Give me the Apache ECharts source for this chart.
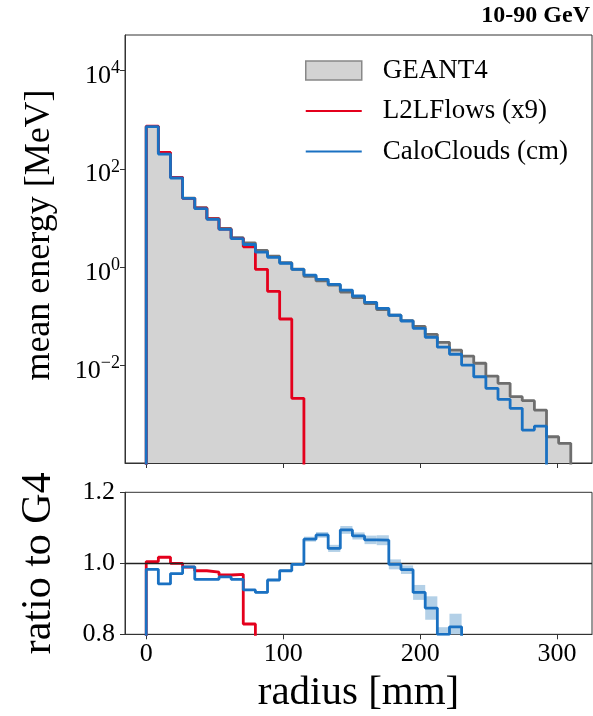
<!DOCTYPE html>
<html>
<head>
<meta charset="utf-8">
<script src="https://cdn.jsdelivr.net/npm/echarts@6/dist/echarts.min.js"></script>
<style>html,body{margin:0;padding:0;background:#fff}#c{width:593px;height:716px}</style>
</head>
<body>
<div id="c"></div>
<script>
// ---- data ----
const binEdges = [0, 8.857, 17.714, 26.571, 35.429, 44.286, 53.143, 62, 70.857, 79.714, 88.571,
  97.429, 106.286, 115.143, 124, 132.857, 141.714, 150.571, 159.429, 168.286, 177.143, 186,
  194.857, 203.714, 212.571, 221.429, 230.286, 239.143, 248, 256.857, 265.714, 274.571,
  283.429, 292.286, 301.143, 310];

const geant4 = [736, 213, 67.5, 25.6, 16.3, 9.92, 6.16, 4.0, 3.15, 2.21, 1.68, 1.24, 0.913,
  0.653, 0.528, 0.433, 0.315, 0.242, 0.182, 0.138, 0.106, 0.0825, 0.0626, 0.0434, 0.0298,
  0.0208, 0.0157, 0.0112, 0.00615, 0.00438, 0.00234, 0.00194, 0.00125, 0.000359, 0.000264];

const l2lflows = [740, 217, 67.5, 25.3, 16.0, 9.67, 5.96, 3.88, 2.61, 0.91, 0.325, 0.089, 0.00217];

const caloclouds = [724, 201, 65.5, 25.3, 15.6, 9.47, 5.93, 3.82, 2.91, 2.03, 1.60, 1.21, 0.91,
  0.697, 0.570, 0.451, 0.345, 0.261, 0.194, 0.147, 0.106, 0.081, 0.0575, 0.0379, 0.0238,
  0.0171, 0.0103, 0.00596, 0.00346, 0.00207, 0.00136, 0.00049, 0.00059];

const ratioL2L = [1.005, 1.017, 1.0, 0.989, 0.979, 0.975, 0.967, 0.969, 0.829, 0.41, 0.19, 0.072, 0.0024];

const ratioCalo = [0.983, 0.942, 0.971, 0.990, 0.955, 0.955, 0.962, 0.955, 0.925, 0.918, 0.953,
  0.979, 0.997, 1.068, 1.080, 1.042, 1.094, 1.077, 1.066, 1.065, 0.997, 0.982, 0.918, 0.874,
  0.800, 0.821, 0.66, 0.53, 0.56, 0.47, 0.58, 0.25, 0.47];

const ratioCaloErr = [0.002, 0.002, 0.002, 0.002, 0.002, 0.002, 0.002, 0.002, 0.002, 0.003, 0.003,
  0.003, 0.004, 0.007, 0.008, 0.010, 0.011, 0.010, 0.012, 0.014, 0.014, 0.012, 0.021, 0.033,
  0.020, 0.037, 0.05, 0.06, 0.07, 0.08, 0.09, 0.1, 0.1];

const xTicks = [0, 100, 200, 300];
const yTopTicks = [0.01, 1, 100, 10000];
const yRatioTicks = [0.8, 1.0, 1.2];

// ---- styling ----
const FONT = 'Liberation Serif';
const RED = '#e4001c';
const BLUE = '#1a71c2';
const GREY_LINE = '#6e6e6e';
const GREY_FILL = '#d3d3d3';
const BAND = '#b3d0e7';
const AX = '#333';
const LW = 2.8;

function steps(vals, floor) {
  const pts = [[binEdges[0], floor]];
  vals.forEach((v, i) => pts.push([binEdges[i], v]));
  pts.push([binEdges[vals.length], vals[vals.length - 1]]);
  pts.push([binEdges[vals.length], floor]);
  return pts;
}
function supNum(e) { return e < 0 ? '\u2212' + (-e) : String(e); }

const chart = echarts.init(document.getElementById('c'), null, {renderer: 'canvas'});
const axisLineStyle = {color: AX, width: 1};

chart.setOption({
  animation: false,
  textStyle: {fontFamily: FONT},
  title: {
    text: '10-90 GeV', right: 3, top: 4, padding: 0,
    textStyle: {fontFamily: FONT, fontWeight: 'bold', fontSize: 24, color: '#000'}
  },
  legend: {
    orient: 'vertical', left: 305, top: 57, padding: 0, itemGap: 13.5,
    itemWidth: 56, itemHeight: 19, selectedMode: false, symbolKeepAspect: true,
    textStyle: {fontFamily: FONT, fontSize: 27, color: '#000', lineHeight: 27, padding: [0, 0, 0, 16]},
    data: [
      {name: 'GEANT4', icon: 'rect', itemStyle: {color: GREY_FILL, borderColor: '#888', borderWidth: 1.5}},
      {name: 'L2LFlows (x9)', icon: 'path://M0,0H28V1H0Z', itemStyle: {color: RED, borderWidth: 0}},
      {name: 'CaloClouds (cm)', icon: 'path://M0,0H28V1H0Z', itemStyle: {color: BLUE, borderWidth: 0}}
    ]
  },
  grid: [
    {left: 125, right: 1, top: 35, bottom: 253, show: true, borderColor: AX, borderWidth: 1, backgroundColor: 'transparent'},
    {left: 125, right: 1, top: 492.3, bottom: 81.7, show: true, borderColor: AX, borderWidth: 1, backgroundColor: 'transparent'}
  ],
  xAxis: [
    {
      type: 'value', gridIndex: 0, min: -15.5, max: 325.5,
      axisLine: {show: true, onZero: false, lineStyle: axisLineStyle},
      axisTick: {show: true, length: 5, customValues: xTicks, lineStyle: axisLineStyle},
      axisLabel: {show: false},
      splitLine: {show: false}
    },
    {
      type: 'value', gridIndex: 1, min: -15.5, max: 325.5,
      name: 'radius [mm]', nameLocation: 'middle', nameGap: 38,
      nameTextStyle: {fontFamily: FONT, fontSize: 41, color: '#000'},
      axisLine: {show: true, onZero: false, lineStyle: axisLineStyle},
      axisTick: {show: true, length: 5, customValues: xTicks, lineStyle: axisLineStyle},
      axisLabel: {show: true, customValues: xTicks, margin: 7, fontFamily: FONT, fontSize: 26, color: '#000'},
      splitLine: {show: false}
    }
  ],
  yAxis: [
    {
      type: 'log', logBase: 10, gridIndex: 0, min: 1.05e-4, max: 5.3e4,
      name: 'mean energy [MeV]', nameLocation: 'middle', nameGap: 67,
      nameTextStyle: {fontFamily: FONT, fontSize: 36, color: '#000', padding: [0, 0, 0, 28]},
      axisLine: {show: true, onZero: false, lineStyle: axisLineStyle},
      axisTick: {show: true, length: 5, customValues: yTopTicks, lineStyle: axisLineStyle},
      axisLabel: {
        show: true, customValues: yTopTicks, margin: 5, color: '#000',
        formatter: v => '{b|10}{s|' + supNum(Math.round(Math.log10(v))) + '}',
        rich: {
          b: {fontFamily: FONT, fontSize: 26, color: '#000', padding: [11, 0, 0, 0]},
          s: {fontFamily: FONT, fontSize: 18, color: '#000', padding: [0, 0, 4, 0]}
        }
      },
      splitLine: {show: false}, minorTick: {show: false}
    },
    {
      type: 'value', gridIndex: 1, min: 0.8, max: 1.2, interval: 0.2,
      name: 'ratio to G4', nameLocation: 'middle', nameGap: 65,
      nameTextStyle: {fontFamily: FONT, fontSize: 42, color: '#000'},
      axisLine: {show: true, onZero: false, lineStyle: axisLineStyle},
      axisTick: {show: true, length: 5, customValues: yRatioTicks, lineStyle: axisLineStyle},
      axisLabel: {show: true, customValues: yRatioTicks, margin: 10, fontFamily: FONT, fontSize: 26, color: '#000',
        formatter: v => v.toFixed(1)},
      splitLine: {show: false}
    }
  ],
  series: [
    {
      name: 'GEANT4', type: 'line', xAxisIndex: 0, yAxisIndex: 0, step: 'end', symbol: 'none',
      data: steps(geant4, 1e-8), z: 2,
      lineStyle: {color: GREY_LINE, width: LW}, itemStyle: {color: GREY_FILL},
      areaStyle: {color: GREY_FILL, opacity: 1}
    },
    {
      name: 'L2LFlows (x9)', type: 'line', xAxisIndex: 0, yAxisIndex: 0, step: 'end', symbol: 'none',
      data: steps(l2lflows, 1e-8), z: 3,
      lineStyle: {color: RED, width: LW}, itemStyle: {color: RED}
    },
    {
      name: 'CaloClouds (cm)', type: 'line', xAxisIndex: 0, yAxisIndex: 0, step: 'end', symbol: 'none',
      data: steps(caloclouds, 1e-8), z: 4,
      lineStyle: {color: BLUE, width: LW}, itemStyle: {color: BLUE}
    },
    {
      name: 'CaloClouds (cm)', type: 'custom', xAxisIndex: 1, yAxisIndex: 1, z: 2,
      data: ratioCalo.map((r, i) => [binEdges[i], binEdges[i + 1], r - ratioCaloErr[i], r + ratioCaloErr[i]]),
      encode: {x: [0, 1], y: [2, 3]},
      renderItem: function (params, api) {
        const p0 = api.coord([api.value(0), api.value(3)]);
        const p1 = api.coord([api.value(1), api.value(2)]);
        const shape = echarts.graphic.clipRectByRect(
          {x: p0[0], y: p0[1], width: p1[0] - p0[0], height: p1[1] - p0[1]},
          {x: params.coordSys.x, y: params.coordSys.y, width: params.coordSys.width, height: params.coordSys.height});
        return shape && {type: 'rect', shape: shape, style: {fill: BAND}};
      }
    },
    {
      type: 'line', xAxisIndex: 1, yAxisIndex: 1, data: [], z: 3, symbol: 'none',
      markLine: {silent: true, symbol: 'none', label: {show: false},
        lineStyle: {color: '#222', width: 1.3, type: 'solid'}, data: [{yAxis: 1.0}]}
    },
    {
      name: 'L2LFlows (x9)', type: 'line', xAxisIndex: 1, yAxisIndex: 1, step: 'end', symbol: 'none',
      data: steps(ratioL2L, 0), z: 4,
      lineStyle: {color: RED, width: LW}, itemStyle: {color: RED}
    },
    {
      name: 'CaloClouds (cm)', type: 'line', xAxisIndex: 1, yAxisIndex: 1, step: 'end', symbol: 'none',
      data: steps(ratioCalo, 0), z: 5,
      lineStyle: {color: BLUE, width: LW}, itemStyle: {color: BLUE}
    }
  ]
});
</script>
</body>
</html>
